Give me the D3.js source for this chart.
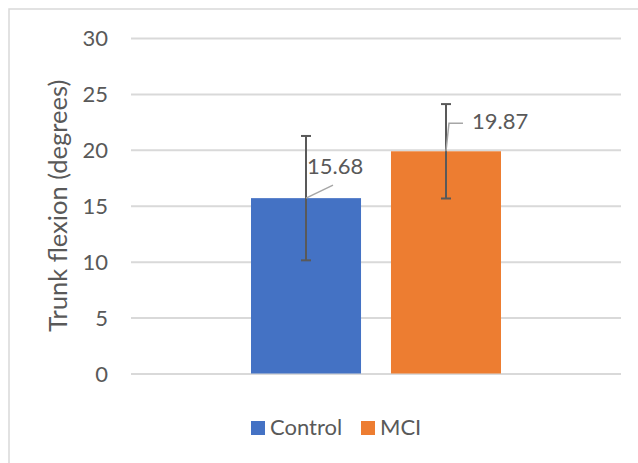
<!DOCTYPE html>
<html>
<head>
<meta charset="utf-8">
<script src="https://cdn.jsdelivr.net/npm/d3@7"></script>
<style>
  body { margin: 0; background: #fff; }
  text { font-family: Lato, sans-serif; fill: #595959; }
</style>
</head>
<body>
<svg id="chart" width="638" height="463"></svg>
<script>
var width = 638
var height = 463
var margin = { top: 38, right: 17, bottom: 89.5, left: 131 }
var fontSize = "22px"
var titleSize = "25.5px"

// data
var groups = ["Control", "MCI"]
var means = [15.68, 19.87]
var errors = [5.56, 4.22]
var colors = ["#4472C4", "#ED7D31"]
var yTicks = [0, 5, 10, 15, 20, 25, 30]

var svg = d3.select("#chart")

// chart border
svg.append("rect")
    .attr("x", 9).attr("y", 9)
    .attr("width", 640).attr("height", 470)
    .attr("fill", "none")
    .attr("stroke", "#D9D9D9")
    .attr("stroke-width", 1.5)

var yScale = d3.scaleLinear()
    .domain([0, 30])
    .range([height - margin.bottom, margin.top])

var plotLeft = margin.left
var plotRight = width - margin.right
var plotMid = (plotLeft + plotRight) / 2

var xScale = d3.scaleBand()
    .domain(groups)
    .range([plotMid - 125, plotMid + 125])
    .paddingInner(0.214)
    .paddingOuter(0)

// grid lines
var yAxis = d3.axisLeft(yScale)
    .tickValues(yTicks)
    .tickSize(-(plotRight - plotLeft))
    .tickPadding(23)

var yg = svg.append("g")
    .attr("class", "yAxis")
    .attr("transform", "translate(" + plotLeft + ",0)")
    .call(yAxis)
yg.select(".domain").remove()
yg.selectAll(".tick line").attr("stroke", "#D9D9D9").attr("stroke-width", 2)
yg.selectAll(".tick text")
    .style("font-size", fontSize)
    .attr("dy", "0.36em")
    .attr("fill", "#595959")
    .attr("font-family", "Lato")

// y title
svg.append("text")
    .attr("transform", "rotate(-90)")
    .attr("x", -(yScale(15)))
    .attr("y", 67)
    .attr("text-anchor", "middle")
    .style("font-size", titleSize)
    .text("Trunk flexion (degrees)")

// bars
svg.append("g")
    .selectAll("rect")
    .data(groups)
    .enter().append("rect")
    .attr("x", function (d) { return xScale(d) })
    .attr("width", xScale.bandwidth())
    .attr("y", function (d, i) { return yScale(means[i]) })
    .attr("height", function (d, i) { return yScale(0) - yScale(means[i]) })
    .attr("fill", function (d, i) { return colors[i] })

// error bars
var eb = svg.append("g")
    .attr("stroke", "#595959")
    .attr("stroke-width", 2)
groups.forEach(function (g, i) {
    var cx = xScale(g) + xScale.bandwidth() / 2
    var top = yScale(means[i] + errors[i])
    var bot = yScale(means[i] - errors[i])
    eb.append("line").attr("x1", cx).attr("x2", cx).attr("y1", top).attr("y2", bot)
    eb.append("line").attr("x1", cx - 5).attr("x2", cx + 5).attr("y1", top).attr("y2", top)
    eb.append("line").attr("x1", cx - 5).attr("x2", cx + 5).attr("y1", bot).attr("y2", bot)
})

// data labels with leader lines
var lbl = svg.append("g")
// Control
var c0 = xScale(groups[0]) + xScale.bandwidth() / 2
var y0 = yScale(means[0])
lbl.append("polyline")
    .attr("points", [[c0, y0], [c0 + 27, y0 - 13]].join(" "))
    .attr("fill", "none").attr("stroke", "#A6A6A6").attr("stroke-width", 1.5)
lbl.append("text")
    .attr("x", c0 + 1).attr("y", y0 - 24)
    .style("font-size", fontSize)
    .text(means[0].toFixed(2))
// MCI
var c1 = xScale(groups[1]) + xScale.bandwidth() / 2
var y1 = yScale(means[1])
lbl.append("polyline")
    .attr("points", [[c1, y1], [c1 + 3, y1 - 28], [c1 + 17, y1 - 28]].join(" "))
    .attr("fill", "none").attr("stroke", "#A6A6A6").attr("stroke-width", 1.5)
lbl.append("text")
    .attr("x", c1 + 26).attr("y", y1 - 22)
    .style("font-size", fontSize)
    .text(means[1].toFixed(2))

// legend
var legend = svg.append("g")
var legX = [251, 361]
groups.forEach(function (g, i) {
    legend.append("rect")
        .attr("x", legX[i]).attr("y", 421)
        .attr("width", 14).attr("height", 14)
        .attr("fill", colors[i])
    legend.append("text")
        .attr("x", legX[i] + 19).attr("y", 435)
        .style("font-size", fontSize)
        .text(g)
})
</script>
</body>
</html>
